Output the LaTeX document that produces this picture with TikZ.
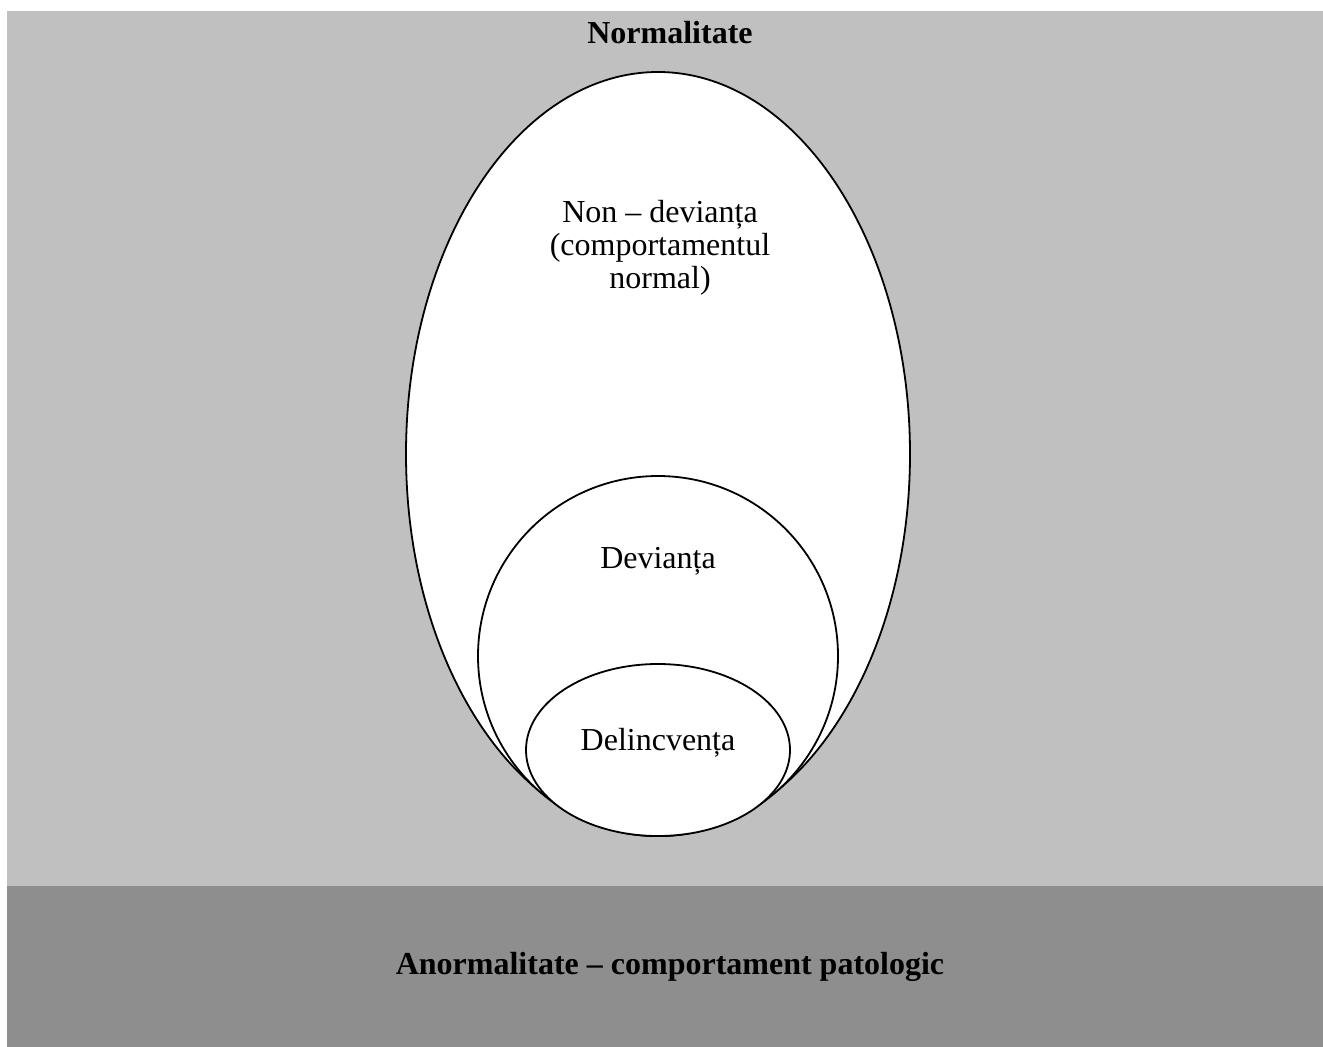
\documentclass[tikz,border=0pt]{standalone}
\usepackage{fontspec}
\setmainfont{Liberation Serif}
\usetikzlibrary{shapes.geometric}
\definecolor{lightbg}{HTML}{C0C0C0}
\definecolor{darkbg}{HTML}{8E8E8E}
\tikzset{
  region/.style={ellipse, draw=black, fill=white, line width=1.8pt, inner sep=0pt, outer sep=0pt},
  label/.style={font=\fontsize{32}{33}\selectfont, inner sep=0pt, align=center},
  boldlabel/.style={label, font=\fontsize{32}{33}\selectfont\bfseries}
}
\begin{document}
\begin{tikzpicture}[x=1pt,y=-1pt]
\useasboundingbox (0,0) rectangle (1323,1047);
\fill[lightbg] (7,11) rectangle (1323,886);
\fill[darkbg] (7,886) rectangle (1323,1047);
\node[region, minimum width=504pt, minimum height=764pt] (nondev) at (658,454) {};
\node[region, circle, minimum size=360pt] (dev) at (658,656) {};
\node[region, minimum width=264pt, minimum height=172pt] (delinc) at (658,750) {};
\node[boldlabel, anchor=base] (normt) at (670,43.5) {Normalitate};
\node[label, anchor=base] (nondevt) at (660,288) {Non – devianța\\(comportamentul\\normal)};
\node[label, anchor=base] (devt) at (658,568) {Devianța};
\node[label, anchor=base] (delinct) at (658,750) {Delincvența};
\node[boldlabel, anchor=base] (anormt) at (670,974.5) {Anormalitate – comportament patologic};
\end{tikzpicture}
\end{document}
